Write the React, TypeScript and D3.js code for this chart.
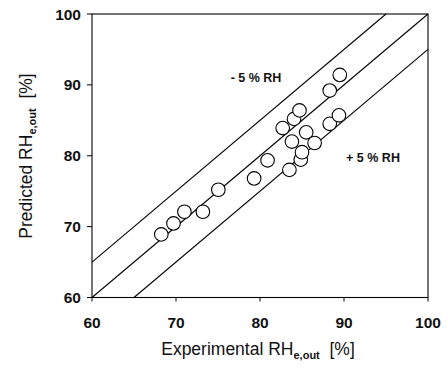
import React from "react";
import * as d3 from "d3";

const expX = [68.25, 69.7, 71.0, 73.2, 75.04, 79.3, 80.9, 82.7, 83.5, 83.8, 84.05, 84.7, 84.85, 85.0, 85.5, 86.5, 88.3, 88.3, 89.4, 89.5];
const predY = [68.9, 70.45, 72.1, 72.1, 75.2, 76.8, 79.35, 83.9, 78.0, 82.0, 85.2, 86.4, 79.45, 80.5, 83.3, 81.8, 84.5, 89.2, 85.7, 91.4];
const ticks = [60, 70, 80, 90, 100];
const offsets = [5, 0, -5];

export default function App() {
  const W = 447, H = 370;
  const m = { left: 92, right: 428, top: 14, bottom: 297.5 };
  const x = d3.scaleLinear().domain([60, 100]).range([m.left, m.right]);
  const y = d3.scaleLinear().domain([60, 100]).range([m.bottom, m.top]);
  const font = "'Liberation Sans', Arial, sans-serif";

  const lineFor = (off: number) => {
    const x0 = Math.max(60, 60 - off);
    const x1 = Math.min(100, 100 - off);
    return { x1: x(x0), y1: y(x0 + off), x2: x(x1), y2: y(x1 + off) };
  };

  return (
    <svg width={W} height={H} style={{ position: "absolute", left: 0, top: 0, background: "#fff" }} fontFamily={font}>
      <rect x={0} y={0} width={W} height={H} fill="#fff" />
      {offsets.map((o) => {
        const l = lineFor(o);
        return <line key={o} {...l} stroke="#000" strokeWidth={1.1} />;
      })}
      {expX.map((v, i) => (
        <circle key={i} cx={x(v)} cy={y(predY[i])} r={6.8} fill="#fff" stroke="#000" strokeWidth={1.1} />
      ))}
      <rect x={m.left} y={m.top} width={m.right - m.left} height={m.bottom - m.top} fill="none" stroke="#000" strokeWidth={1.1} />
      {ticks.map((t) => (
        <g key={"y" + t}>
          <line x1={m.left - 5} x2={m.left} y1={y(t)} y2={y(t)} stroke="#000" strokeWidth={1} />
          <text x={m.left - 11} y={y(t)} dy="0.36em" textAnchor="end" fontSize={15.5} fontWeight="bold" fill="#111">{t}</text>
        </g>
      ))}
      {ticks.map((t) => (
        <g key={"x" + t}>
          <line x1={x(t)} x2={x(t)} y1={m.bottom} y2={m.bottom + 4} stroke="#000" strokeWidth={1} />
          <text x={x(t)} y={m.bottom + 30} textAnchor="middle" fontSize={15.5} fontWeight="bold" fill="#111">{t}</text>
        </g>
      ))}
      <text x={256} y={82} textAnchor="middle" fontSize={12.5} fontWeight="bold" fill="#111">- 5 % RH</text>
      <text x={373} y={162} textAnchor="middle" fontSize={12.5} fontWeight="bold" fill="#111">+ 5 % RH</text>
      <text x={258} y={355} textAnchor="middle" fontSize={17.5} fill="#111">
        Experimental RH<tspan fontSize={11} fontWeight="bold" dy={4}>e,out</tspan><tspan dy={-4}>{"\u00a0\u00a0[%]"}</tspan>
      </text>
      <text transform={`translate(32,156) rotate(-90)`} textAnchor="middle" fontSize={17.5} fill="#111">
        Predicted RH<tspan fontSize={11} fontWeight="bold" dy={4}>e,out</tspan><tspan dy={-4}>{"\u00a0\u00a0[%]"}</tspan>
      </text>
    </svg>
  );
}
